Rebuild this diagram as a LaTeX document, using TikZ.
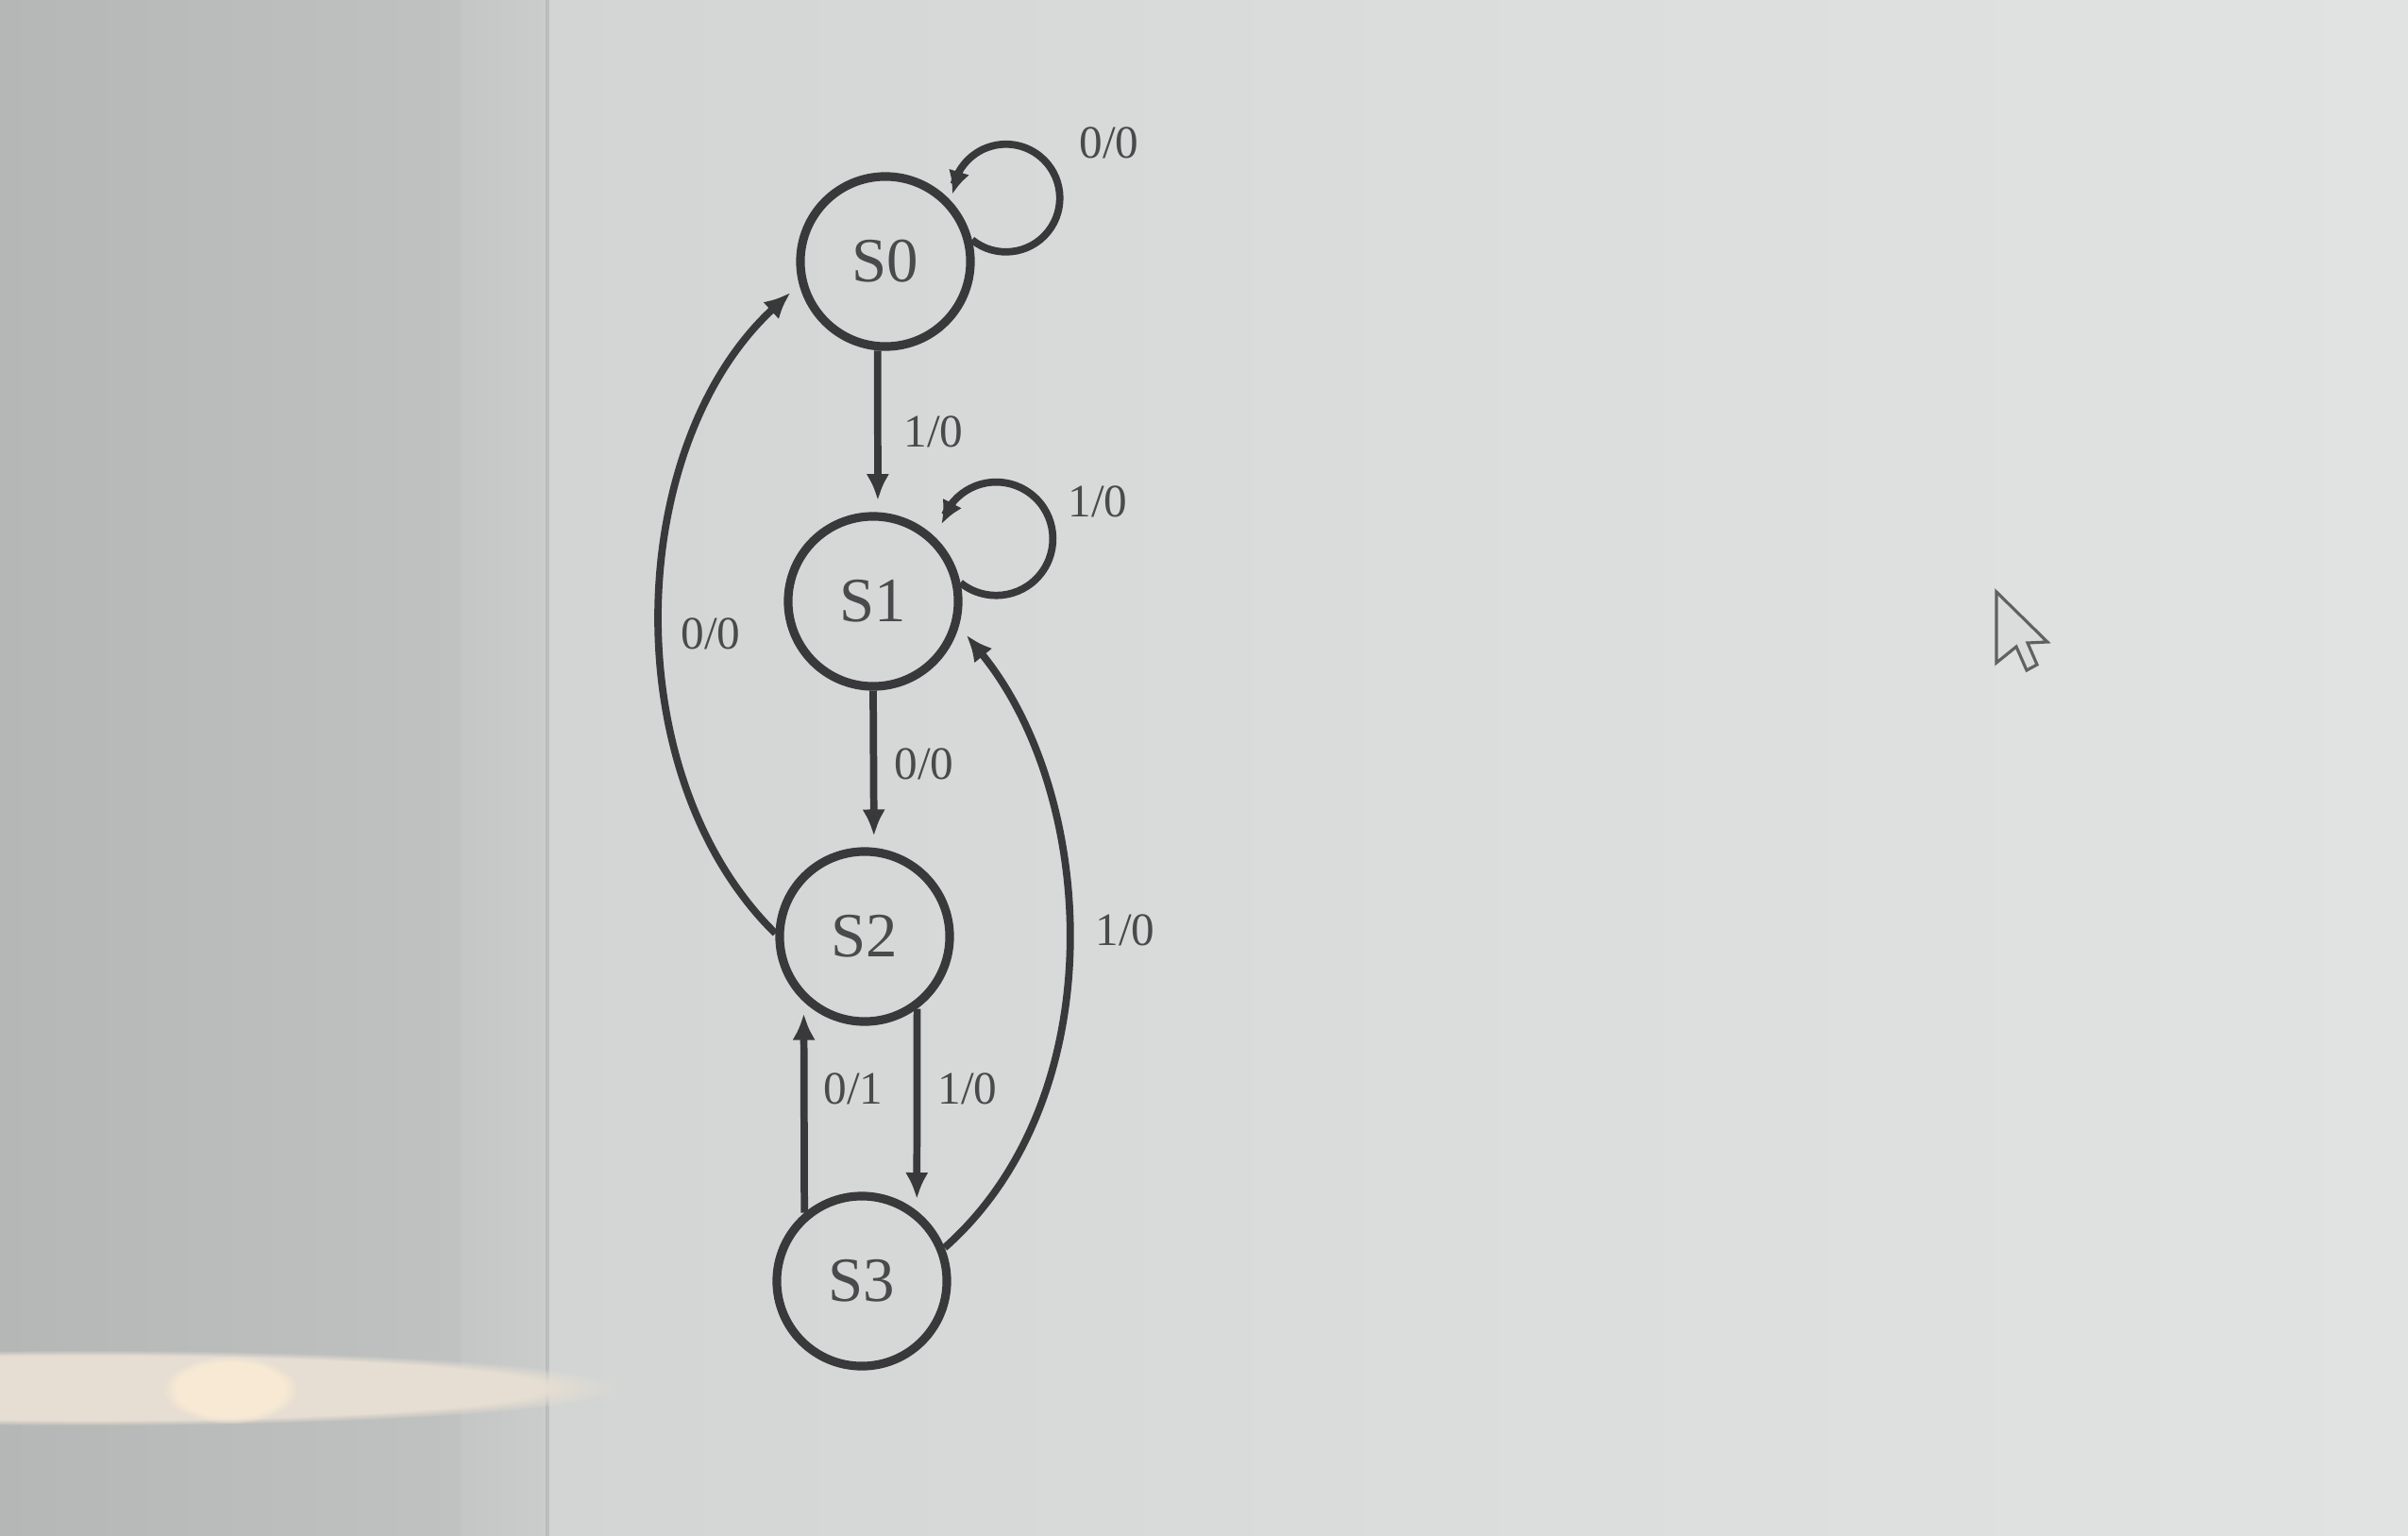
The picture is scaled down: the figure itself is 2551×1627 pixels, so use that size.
\documentclass[tikz,border=0pt]{standalone}
\usepackage{fontspec}
\setmainfont{Liberation Serif}
\usetikzlibrary{arrows.meta,fadings}
\definecolor{lc}{HTML}{39383B}
\definecolor{tc}{HTML}{4A4A4C}
\definecolor{bgA}{HTML}{B5B7B6}
\definecolor{bgB}{HTML}{C0C2C1}
\definecolor{bgC}{HTML}{CBCDCC}
\definecolor{bgD}{HTML}{D2D5D4}
\definecolor{bgE}{HTML}{DADDDC}
\definecolor{bgF}{HTML}{E0E3E2}
\definecolor{glow}{HTML}{E6DED2}
\definecolor{glowB}{HTML}{F7E9D4}
\tikzset{
  state/.style={circle, draw=lc, line width=2.6pt, minimum size=1.8cm, inner sep=0pt,
    font=\fontsize{19}{19}\selectfont, text=tc},
  lbl/.style={font=\fontsize{14}{14}\selectfont, text=tc, inner sep=0pt},
  edge/.style={draw=lc, line width=2.2pt, -{Latex[length=8pt,width=7pt]}, shorten >=3.5pt},
  loopline/.style={draw=lc, line width=2.2pt},
  looptip/.style={draw=lc, line width=2.2pt, -{Latex[length=7pt,width=6.5pt]}},
  cursorshape/.style={draw=lc!80, fill=bgE, line width=0.9pt, line join=miter}
}
\begin{document}
\begin{tikzpicture}[x=0.01cm, y=0.01cm]
\useasboundingbox (0,0) rectangle (2551,-1627);
% background (photographed screen)
\fill[left color=bgA, right color=bgB] (0,0) rectangle (488,-1627);
\fill[left color=bgB!60!bgC, right color=bgC] (488,0) rectangle (580,-1627);
\fill[left color=bgD, right color=bgE] (580,0) rectangle (1500,-1627);
\fill[left color=bgE, right color=bgF] (1500,0) rectangle (2551,-1627);
\draw[bgA!80!black, line width=1pt, opacity=0.3] (580,0) -- (580,-1627);
% light reflection
\fill[glow, path fading=circle with fuzzy edge 15 percent] (90,-1470) ellipse (570 and 40);
\fill[glowB, path fading=circle with fuzzy edge 20 percent] (244,-1472) ellipse (72 and 36);
% states
\node[state] (S0) at (938,-277) {S0};
\node[state] (S1) at (925,-637) {S1};
\node[state] (S2) at (916,-992) {S2};
\node[state] (S3) at (913,-1357) {S3};
% self loops
\draw[loopline] (S0.14) arc[start angle=231, end angle=525, radius=0.57cm];
\path (S0.14) arc[start angle=231, end angle=510, radius=0.57cm] coordinate (A0);
\path (S0.14) arc[start angle=231, end angle=536, radius=0.57cm] coordinate (T0);
\draw[looptip] (A0) -- (T0);
\draw[loopline] (S1.12) arc[start angle=231, end angle=515, radius=0.6cm];
\path (S1.12) arc[start angle=231, end angle=500, radius=0.6cm] coordinate (A1);
\path (S1.12) arc[start angle=231, end angle=525, radius=0.6cm] coordinate (T1);
\draw[looptip] (A1) -- (T1);
% transitions
\draw[edge] (S0.265) -- (S1.87);
\draw[edge] (S1.270) -- (S2.84);
\draw[edge] (S2.306) -- (S3.52);
\draw[edge] (S3.130) -- (S2.227);
\draw[edge] (S2.178) .. controls (650,-820) and (662,-472) .. (S0.195);
\draw[edge] (S3.22) .. controls (1181,-1162) and (1162,-842) .. (S1.344);
% labels
\node[lbl] (l00a) at (1175,-151) {0/0};
\node[lbl] (l10a) at (989,-457) {1/0};
\node[lbl] (l10b) at (1163,-531) {1/0};
\node[lbl] (l00b) at (753,-671) {0/0};
\node[lbl] (l00c) at (979,-809) {0/0};
\node[lbl] (l10c) at (1192,-985) {1/0};
\node[lbl] (l01) at (904,-1153) {0/1};
\node[lbl] (l10d) at (1025,-1153) {1/0};
% mouse pointer
\draw[cursorshape] (2115,-627) -- (2115,-702) -- (2136,-685) -- (2147,-710)
  -- (2158,-704) -- (2148,-681) -- (2169,-680) -- cycle;
\end{tikzpicture}
\end{document}
